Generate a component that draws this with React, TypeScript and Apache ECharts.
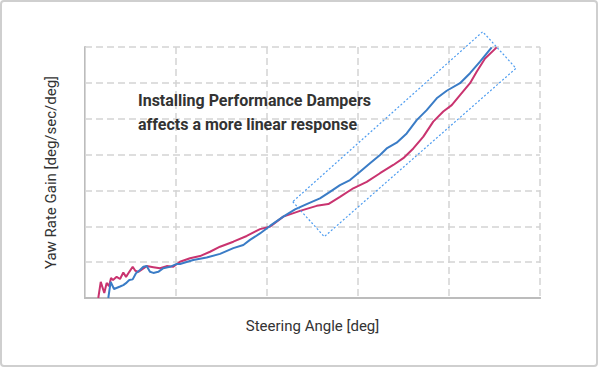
import React, { useEffect, useRef } from "react";
import * as echarts from "echarts";

// Steering angle (deg) / yaw rate gain pairs
const withoutDampersX = [1.46, 1.73, 2.12, 2.38, 2.64, 2.86, 3.08, 3.48, 3.85, 4.21, 4.51, 4.87, 5.24, 5.53, 5.86, 6.78, 7.51, 8.24, 8.98, 9.7, 10.44, 11.54, 12.64, 13.74, 14.84, 16.3, 17.77, 19.23, 20.33, 21.79, 23.63, 25.46, 26.74, 28.02, 29.48, 30.96, 32.42, 33.88, 34.98, 36.08, 37.18, 38.27, 39.37, 40.3, 41.21, 42.31, 43.04, 43.96, 45.24];
const withoutDampersY = [0, 0.45, 0.14, 0.42, 0.33, 0.56, 0.5, 0.59, 0.53, 0.71, 0.59, 0.73, 0.87, 0.76, 0.73, 0.89, 0.86, 0.83, 0.89, 0.87, 1.01, 1.11, 1.17, 1.29, 1.43, 1.57, 1.73, 1.92, 1.99, 2.27, 2.43, 2.57, 2.62, 2.82, 3.06, 3.24, 3.48, 3.71, 3.9, 4.17, 4.5, 4.92, 5.2, 5.38, 5.66, 5.99, 6.31, 6.68, 6.99];

const withDampersX = [2.56, 2.82, 3.19, 3.85, 4.21, 4.58, 4.87, 5.24, 5.6, 6.04, 6.41, 6.78, 7.14, 7.51, 8.05, 8.6, 9.34, 10.08, 10.44, 11.9, 13.37, 14.84, 16.3, 17.4, 18.13, 19.23, 20.33, 21.79, 23.08, 24.36, 25.82, 26.92, 28.02, 29.12, 30.22, 31.32, 32.42, 33.15, 34.25, 35.35, 36.45, 37.55, 38.65, 39.75, 41.21, 42.31, 43.41, 44.69];
const withDampersY = [0, 0.45, 0.25, 0.32, 0.36, 0.43, 0.5, 0.52, 0.69, 0.78, 0.87, 0.89, 0.73, 0.7, 0.73, 0.83, 0.87, 0.95, 0.95, 1.06, 1.13, 1.23, 1.39, 1.48, 1.62, 1.8, 2.01, 2.27, 2.47, 2.62, 2.78, 2.96, 3.15, 3.29, 3.52, 3.76, 3.99, 4.17, 4.33, 4.59, 4.96, 5.24, 5.57, 5.78, 5.99, 6.27, 6.59, 6.99];

const xTitle = "Steering Angle [deg]";
const yTitle = "Yaw Rate Gain [deg/sec/deg]";
const annotationLines = ["Installing Performance Dampers", "affects a more linear response"];

const zip = (xs: number[], ys: number[]) => xs.map((x, i) => [x, ys[i]]);

export default function App() {
  const ref = useRef<HTMLDivElement>(null);
  useEffect(() => {
    document.body.style.margin = "0";
    if (!ref.current) return;
    const chart = echarts.init(ref.current, null, { renderer: "svg" });
    const font = "Roboto, Arial, sans-serif";
    const split = { show: true, lineStyle: { color: "#d4d4d4", width: 1.5, type: [7, 4] as any } };
    const axisLineMain = { show: true, lineStyle: { color: "#bcbcbc", width: 2 } };
    chart.setOption({
      animation: false,
      backgroundColor: "#fff",
      grid: { left: 85, right: 58, top: 47, bottom: 69 },
      xAxis: [
        {
          type: "value", min: 0, max: 50, interval: 10,
          axisLine: axisLineMain, axisTick: { show: false }, axisLabel: { show: false },
          splitLine: split,
          name: xTitle, nameLocation: "middle", nameGap: 20,
          nameTextStyle: { fontFamily: font, fontSize: 15, color: "#333" },
        },
        {
          type: "value", position: "top", min: 0, max: 50, interval: 10,
          axisLine: axisLineMain, axisTick: { show: false }, axisLabel: { show: false }, splitLine: { show: false },
        },
      ],
      yAxis: [
        {
          type: "value", min: 0, max: 7, interval: 1,
          axisLine: axisLineMain, axisTick: { show: false }, axisLabel: { show: false },
          splitLine: split,
          name: yTitle, nameLocation: "middle", nameGap: 27,
          nameTextStyle: { fontFamily: font, fontSize: 15, color: "#333" },
        },
        {
          type: "value", position: "right", min: 0, max: 7, interval: 1,
          axisLine: { show: true, lineStyle: { color: "#d6d6d6", width: 1 } },
          axisTick: { show: false }, axisLabel: { show: false }, splitLine: { show: false },
        },
      ],
      series: [
        {
          type: "line", name: "Without dampers", data: zip(withoutDampersX, withoutDampersY),
          showSymbol: false, lineStyle: { color: "#c9336f", width: 2 }, z: 3,
        },
        {
          type: "line", name: "With dampers", data: zip(withDampersX, withDampersY),
          showSymbol: false, lineStyle: { color: "#3a7cc6", width: 2 }, z: 4,
        },
      ],
      graphic: [
        {
          type: "rect", shape: { x: 1, y: 1, width: 596, height: 365, r: 3 },
          style: { fill: "none", stroke: "#cfcfcf", lineWidth: 2 }, z: 100,
        },
        {
          type: "polygon",
          shape: { points: [[292.7, 201.7], [324.3, 236.7], [516, 68.3], [482.7, 31.7]] },
          style: { fill: "none", stroke: "#4d9cf0", lineWidth: 1.2, lineDash: [2, 2] }, z: 100,
        },
        {
          type: "text", left: 138, top: 88, z: 100,
          style: {
            text: annotationLines.join("\n"), fontFamily: font, fontSize: 16, fontWeight: "bold",
            fill: "#333", lineHeight: 24,
          },
        },
      ],
    });
    return () => chart.dispose();
  }, []);
  return <div ref={ref} style={{ width: 598, height: 367 }} />;
}
